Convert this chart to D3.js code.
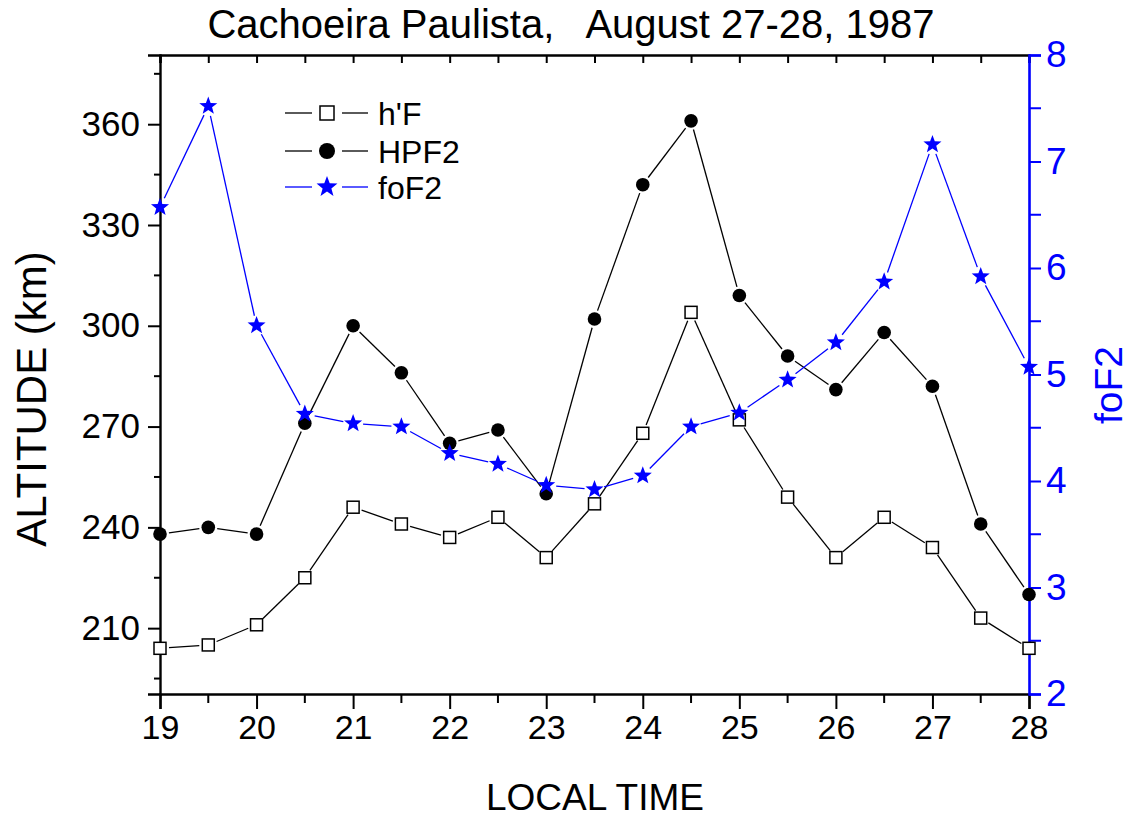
<!DOCTYPE html>
<html>
<head>
<meta charset="utf-8">
<script src="https://cdn.jsdelivr.net/npm/d3@7/dist/d3.min.js"></script>
<style>
  html, body { margin: 0; padding: 0; background: #fff; }
  svg { display: block; }
  text { font-family: "Liberation Sans", Arial, sans-serif; }
</style>
</head>
<body>
<svg id="chart" width="1129" height="818"></svg>
<script>
// Local time (hours) of each sounding
const localTime = [19, 19.5, 20, 20.5, 21, 21.5, 22, 22.5, 23, 23.5, 24, 24.5, 25, 25.5, 26, 26.5, 27, 27.5, 28];
// Virtual height h'F (km)
const hF = [204, 205, 211, 225, 246, 241, 237, 243, 231, 247, 268, 304, 272, 249, 231, 243, 234, 213, 204];
// Peak height HPF2 (km)
const hpF2 = [238, 240, 238, 271, 300, 286, 265, 269, 250, 302, 342, 361, 309, 291, 281, 298, 282, 241, 220];
// Critical frequency foF2 (MHz)
const foF2 = [6.57, 7.52, 5.46, 4.63, 4.54, 4.51, 4.26, 4.16, 3.96, 3.92, 4.05, 4.51, 4.64, 4.95, 5.30, 5.87, 7.16, 5.92, 5.07];

const xTicks = [19, 20, 21, 22, 23, 24, 25, 26, 27, 28];
const altTicks = [210, 240, 270, 300, 330, 360];
const freqTicks = [2, 3, 4, 5, 6, 7, 8];

const svg = d3.select("#chart");
const BLUE = "#0000ff";

const x = d3.scaleLinear().domain([19, 28]).range([160, 1029]);
const yAlt = d3.scaleLinear().domain([190.4, 380.6]).range([694, 55]);
const yFreq = d3.scaleLinear().domain([2, 8]).range([694, 55]);

const halfSteps = d3.range(19, 28.01, 0.5);

// Bottom axis: majors at whole hours, minors at half hours, outward
const axBottom = svg.append("g").attr("transform", "translate(0,694)");
axBottom.call(d3.axisBottom(x).tickValues(xTicks).tickFormat(d3.format("d")).tickSize(15).tickPadding(6));
axBottom.append("g").selectAll("line").data(halfSteps.filter(v => v % 1 !== 0)).join("line")
  .attr("x1", d => x(d)).attr("x2", d => x(d)).attr("y1", 0).attr("y2", 9);

// Top frame: inward ticks every half hour
const axTop = svg.append("g").attr("transform", "translate(0,55)");
axTop.call(d3.axisTop(x).tickValues(halfSteps).tickFormat("").tickSize(-8));

// Left altitude axis
const axLeft = svg.append("g").attr("transform", "translate(160,0)");
axLeft.call(d3.axisLeft(yAlt).tickValues(altTicks).tickFormat(d3.format("d")).tickSize(12).tickPadding(8));
axLeft.append("g").selectAll("line").data(d3.range(195, 380, 30)).join("line")
  .attr("x1", 0).attr("x2", -6).attr("y1", d => yAlt(d)).attr("y2", d => yAlt(d));

// Right foF2 axis (blue)
const axRight = svg.append("g").attr("transform", "translate(1029,0)");
axRight.call(d3.axisRight(yFreq).tickValues(freqTicks).tickFormat(d3.format("d")).tickSize(12).tickPadding(5));
axRight.append("g").selectAll("line").data(d3.range(2.5, 8, 1)).join("line")
  .attr("x1", 0).attr("x2", 12).attr("y1", d => yFreq(d)).attr("y2", d => yFreq(d));

[axBottom, axTop, axLeft].forEach(g => {
  g.selectAll("path.domain").attr("stroke", "#000").attr("stroke-width", 2.4);
  g.selectAll("line").attr("stroke", "#000").attr("stroke-width", 2);
  g.selectAll("text").attr("fill", "#000").attr("font-size", 35);
});
axBottom.selectAll("text").attr("font-size", 34);
axRight.selectAll("path.domain").attr("stroke", BLUE).attr("stroke-width", 2.6);
axRight.selectAll("line").attr("stroke", BLUE).attr("stroke-width", 2);
axRight.selectAll("text").attr("fill", BLUE).attr("font-size", 37);
axBottom.selectAll(".tick text").attr("dy", "0.71em");

// Connecting lines with a small gap around each marker
function gappedSegments(g, pts, gap, color) {
  for (let i = 0; i < pts.length - 1; i++) {
    const [x0, y0] = pts[i], [x1, y1] = pts[i + 1];
    const dx = x1 - x0, dy = y1 - y0, len = Math.hypot(dx, dy);
    if (len <= 2 * gap) continue;
    const ux = dx / len, uy = dy / len;
    g.append("line")
      .attr("x1", x0 + ux * gap).attr("y1", y0 + uy * gap)
      .attr("x2", x1 - ux * gap).attr("y2", y1 - uy * gap)
      .attr("stroke", color).attr("stroke-width", 1.3);
  }
}

function starPath(r) {
  const inner = r * 0.42;
  const p = [];
  for (let k = 0; k < 10; k++) {
    const rad = k % 2 === 0 ? r : inner;
    const a = -Math.PI / 2 + k * Math.PI / 5;
    p.push([rad * Math.cos(a), rad * Math.sin(a)]);
  }
  return "M" + p.map(q => q.join(",")).join("L") + "Z";
}

const plot = svg.append("g");

const ptsHF = localTime.map((t, i) => [x(t), yAlt(hF[i])]);
const ptsHP = localTime.map((t, i) => [x(t), yAlt(hpF2[i])]);
const ptsFo = localTime.map((t, i) => [x(t), yFreq(foF2[i])]);

gappedSegments(plot.append("g"), ptsHF, 9, "#000");
gappedSegments(plot.append("g"), ptsHP, 9, "#000");
gappedSegments(plot.append("g"), ptsFo, 10, BLUE);

plot.append("g").selectAll("rect").data(ptsHF).join("rect")
  .attr("x", d => d[0] - 6).attr("y", d => d[1] - 6).attr("width", 12).attr("height", 12)
  .attr("fill", "#fff").attr("stroke", "#000").attr("stroke-width", 1.5);

plot.append("g").selectAll("circle").data(ptsHP).join("circle")
  .attr("cx", d => d[0]).attr("cy", d => d[1]).attr("r", 6.8).attr("fill", "#000");

plot.append("g").selectAll("path").data(ptsFo).join("path")
  .attr("transform", d => `translate(${d[0]},${d[1]})`)
  .attr("d", starPath(9.5)).attr("fill", BLUE);

// Legend
const legendItems = [
  { name: "h'F", color: "#000", mark: "square", y: 113 },
  { name: "HPF2", color: "#000", mark: "circle", y: 151 },
  { name: "foF2", color: BLUE, mark: "star", y: 187 }
];
const legend = svg.append("g");
legendItems.forEach(it => {
  const g = legend.append("g").attr("transform", `translate(0,${it.y})`);
  g.append("line").attr("x1", 285).attr("x2", 312).attr("y1", 0).attr("y2", 0)
    .attr("stroke", it.color).attr("stroke-width", 1.3);
  g.append("line").attr("x1", 342).attr("x2", 368).attr("y1", 0).attr("y2", 0)
    .attr("stroke", it.color).attr("stroke-width", 1.3);
  if (it.mark === "square") {
    g.append("rect").attr("x", 320).attr("y", -7).attr("width", 14).attr("height", 14)
      .attr("fill", "#fff").attr("stroke", "#000").attr("stroke-width", 1.5);
  } else if (it.mark === "circle") {
    g.append("circle").attr("cx", 327).attr("cy", 0).attr("r", 8).attr("fill", "#000");
  } else {
    g.append("path").attr("transform", "translate(327,0)").attr("d", starPath(11)).attr("fill", BLUE);
  }
  g.append("text").attr("x", 378).attr("y", 0).attr("dy", "0.36em")
    .attr("font-size", 32).attr("fill", "#000").text(it.name);
});

// Titles
svg.append("text").attr("x", 571).attr("y", 38).attr("text-anchor", "middle")
  .attr("font-size", 40).attr("fill", "#000").attr("xml:space", "preserve")
  .text("Cachoeira Paulista,   August 27-28, 1987");

svg.append("text").attr("x", 595).attr("y", 810).attr("text-anchor", "middle")
  .attr("font-size", 37).attr("fill", "#000").text("LOCAL TIME");

svg.append("text").attr("transform", "translate(46,399) rotate(-90)").attr("text-anchor", "middle")
  .attr("font-size", 42).attr("fill", "#000").text("ALTITUDE (km)");

svg.append("text").attr("transform", "translate(1122,385) rotate(-90)").attr("text-anchor", "middle")
  .attr("font-size", 39).attr("fill", BLUE).text("foF2");
</script>
</body>
</html>
